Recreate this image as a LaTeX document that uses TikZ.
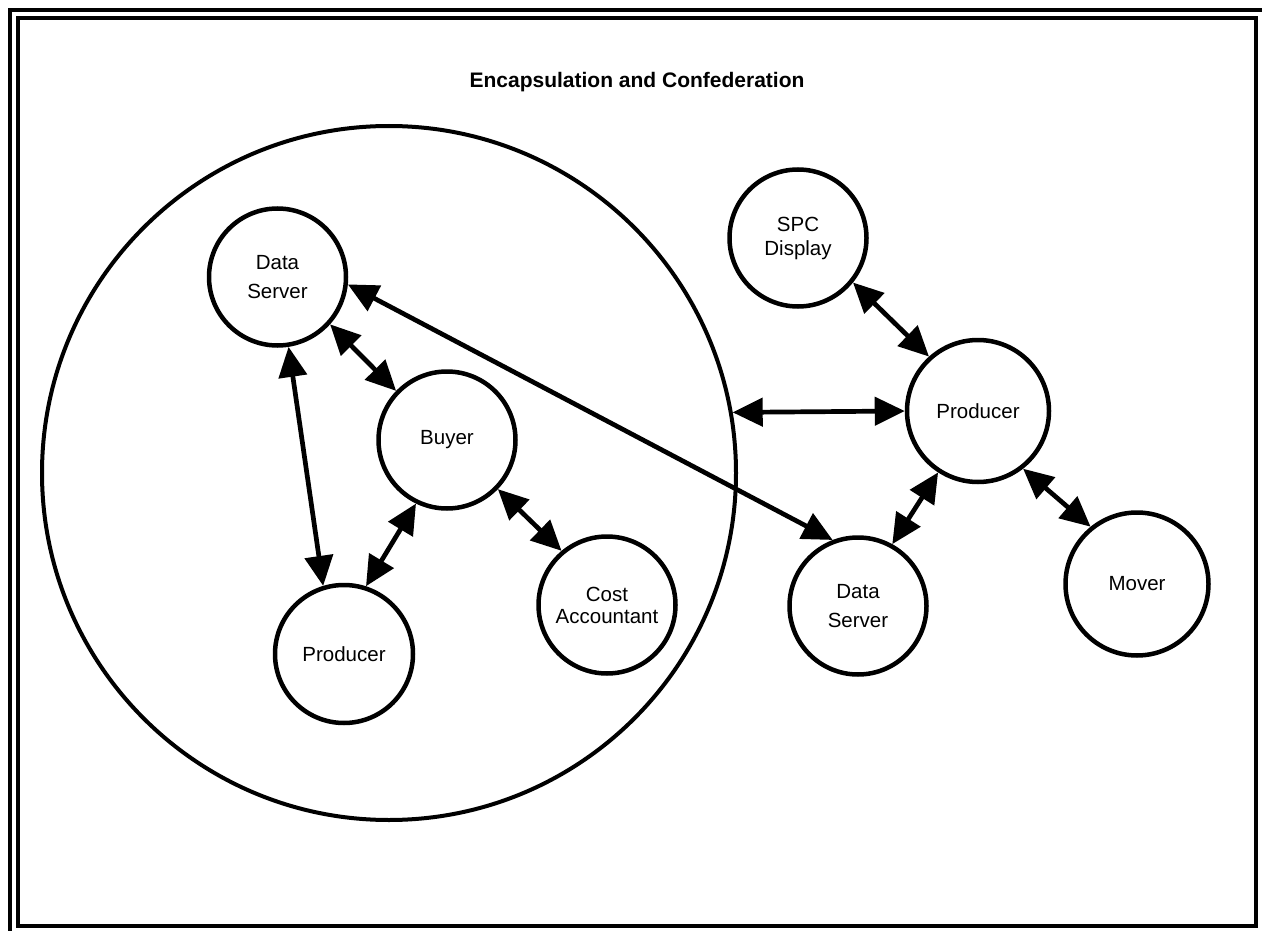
\documentclass[tikz,border=0pt]{standalone}
\usepackage{fontspec}
\setmainfont{Liberation Sans}
\usetikzlibrary{arrows.meta}
\begin{document}
\begin{tikzpicture}[x=1pt,y=-1pt,
  agent/.style={circle,draw,line width=4.5pt,minimum size=#1,inner sep=0pt,align=center,
    font=\fontsize{20.5}{24}\selectfont},
  agent/.default=137pt,
  link/.style={line width=4.7pt,{Triangle[length=30pt,width=28pt]}-{Triangle[length=30pt,width=28pt]}},
  frame/.style={line width=4pt}
]
\useasboundingbox (0,0) rectangle (1262,931);
\clip (0,0) rectangle (1262,931);
% frame
\draw[frame] (10,10) rectangle (1280,950);
\draw[frame] (18,18) rectangle (1256,926);
% title
\node[font=\fontsize{21}{24}\selectfont\bfseries] (title) at (637,82) {Encapsulation and Confederation};
% big enclosure
\node[circle,draw,line width=4pt,minimum size=694pt,inner sep=0pt] (enc) at (389,473) {};
% agents inside
\node[agent] (ds1) at (277.5,277) {Data\\[5pt]Server};
\node[agent] (buyer) at (447,440) {Buyer};
\node[agent=138pt] (prodL) at (344,654) {Producer};
\node[agent] (cost) at (607,605) {Cost\\[-2pt]Accountant};
% agents outside
\node[agent] (spc) at (798,238) {SPC\\Display};
\node[agent=142pt] (prodR) at (978,411) {Producer};
\node[agent] (ds2) at (858,606) {Data\\[5pt]Server};
\node[agent=143pt] (mover) at (1137,584) {Mover};
% connectors
\draw[link] (ds1.-42) -- (buyer.136);
\draw[link] (ds1.-81) -- (prodL.107);
\draw[link] (buyer.-116) -- (prodL.72);
\draw[link] (buyer.-44) -- (cost.130);
\draw[link] (ds1.-6) -- (ds2.111.5);
\draw[link] (enc.10.2) -- (prodR.west);
\draw[link] (spc.-39) -- (prodR.132);
\draw[link] (prodR.-123) -- (ds2.61);
\draw[link] (prodR.-52) -- (mover.129);
\end{tikzpicture}
\end{document}
